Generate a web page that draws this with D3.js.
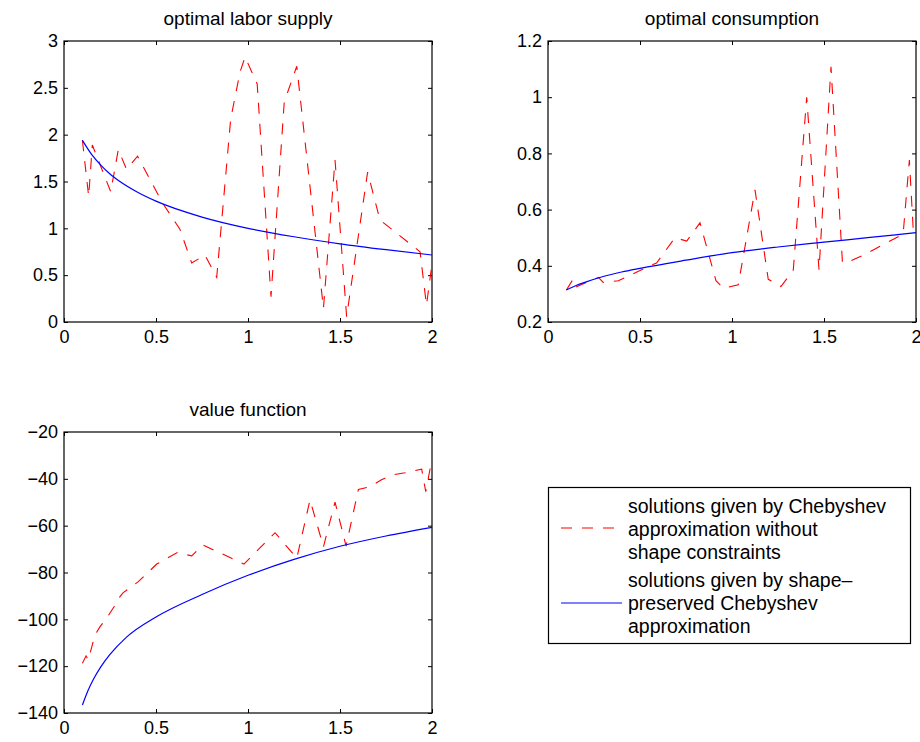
<!DOCTYPE html>
<html>
<head>
<meta charset="utf-8">
<script src="https://cdn.jsdelivr.net/npm/d3@7"></script>
<style>
  body { margin: 0; background: #fff; }
  svg { display: block; font-family: "Liberation Sans", Arial, sans-serif; }
</style>
</head>
<body>
<script>
// ---- data ----
// optimal labor supply
const laborChebX = [0.10, 0.134, 0.154, 0.254, 0.295, 0.34, 0.40, 0.536, 0.63, 0.694, 0.766, 0.83, 0.906, 0.957, 0.984, 1.05, 1.125, 1.197, 1.265, 1.41, 1.473, 1.536, 1.65, 1.717, 1.935, 1.97, 2.0];
const laborChebY = [1.94, 1.34, 1.89, 1.39, 1.84, 1.63, 1.77, 1.27, 0.99, 0.63, 0.715, 0.477, 2.17, 2.67, 2.83, 2.54, 0.27, 2.35, 2.73, 0.146, 1.73, 0.057, 1.60, 1.09, 0.75, 0.18, 0.62];
const laborShapeX = [0.1, 0.15, 0.2, 0.25, 0.3, 0.4, 0.5, 0.75, 1.0, 1.25, 1.5, 1.75, 2.0];
const laborShapeY = [1.94, 1.79, 1.675, 1.58, 1.505, 1.385, 1.29, 1.12, 1.0, 0.91, 0.835, 0.772, 0.715];

// optimal consumption
const consChebX = [0.10, 0.134, 0.147, 0.274, 0.30, 0.382, 0.554, 0.59, 0.69, 0.754, 0.826, 0.913, 0.953, 1.034, 1.125, 1.197, 1.266, 1.333, 1.406, 1.473, 1.538, 1.60, 1.614, 1.714, 1.93, 1.964, 1.985, 2.0];
const consChebY = [0.314, 0.35, 0.323, 0.359, 0.341, 0.347, 0.40, 0.41, 0.50, 0.488, 0.553, 0.347, 0.32, 0.332, 0.67, 0.352, 0.326, 0.385, 1.0, 0.385, 1.108, 0.415, 0.409, 0.438, 0.513, 0.776, 0.527, 0.52];
const consShapeX = [0.1, 0.15, 0.2, 0.3, 0.4, 0.5, 0.75, 1.0, 1.25, 1.5, 1.75, 2.0];
const consShapeY = [0.314, 0.329, 0.341, 0.362, 0.378, 0.391, 0.42, 0.447, 0.467, 0.484, 0.501, 0.518];

// value function
const valueChebX = [0.10, 0.12, 0.132, 0.168, 0.196, 0.232, 0.272, 0.304, 0.322, 0.404, 0.504, 0.616, 0.694, 0.754, 0.978, 1.147, 1.265, 1.337, 1.41, 1.473, 1.533, 1.60, 1.663, 1.723, 1.78, 1.853, 1.944, 1.966, 1.99, 2.0];
const valueChebY = [-118.8, -115.6, -117.4, -106.7, -103.1, -99.5, -94.6, -90.3, -88.6, -83.9, -76.4, -71.5, -72.9, -68.2, -76.4, -63.0, -73.9, -49.0, -69.0, -49.9, -68.7, -44.5, -43.4, -40.5, -38.4, -37.4, -35.9, -45.5, -35.5, -35.3];
const valueShapeX = [0.1, 0.13, 0.16, 0.2, 0.25, 0.34, 0.5, 0.75, 1.0, 1.25, 1.5, 1.75, 2.0];
const valueShapeY = [-136.6, -130.5, -125.6, -120.3, -115.0, -107.6, -99.0, -89.4, -81.2, -74.4, -68.8, -64.4, -60.7];

const xTicks = [0, 0.5, 1, 1.5, 2];
const laborTicks = [0, 0.5, 1, 1.5, 2, 2.5, 3];
const consTicks = [0.2, 0.4, 0.6, 0.8, 1, 1.2];
const valueTicks = [-20, -40, -60, -80, -100, -120, -140];

const legendLabels = [
  ["solutions given by Chebyshev", "approximation without", "shape constraints"],
  ["solutions given by shape\u2013", "preserved Chebyshev", "approximation"]
];

// ---- drawing ----
const svg = d3.select("body").append("svg")
    .attr("width", 920)
    .attr("height", 742);

const zip = (xs, ys) => xs.map((x, i) => [x, ys[i]]);

const panels = [
  { title: "optimal labor supply", left: 64, right: 432, top: 41, bottom: 322,
    yDomain: [0, 3], yTicks: laborTicks,
    cheb: zip(laborChebX, laborChebY), shape: zip(laborShapeX, laborShapeY) },
  { title: "optimal consumption", left: 548, right: 916, top: 41, bottom: 322,
    yDomain: [0.2, 1.2], yTicks: consTicks,
    cheb: zip(consChebX, consChebY), shape: zip(consShapeX, consShapeY) },
  { title: "value function", left: 64, right: 432, top: 432, bottom: 713,
    yDomain: [-140, -20], yTicks: valueTicks,
    cheb: zip(valueChebX, valueChebY), shape: zip(valueShapeX, valueShapeY) }
];

const fmt = d => String(+d.toFixed(2)).replace("-", "\u2212");

panels.forEach(function(p) {
  const x = d3.scaleLinear().domain([0, 2]).range([p.left, p.right]);
  const y = d3.scaleLinear().domain(p.yDomain).range([p.bottom, p.top]);
  const g = svg.append("g");

  // ticks on all four sides, pointing inward
  const axes = [
    [d3.axisBottom(x).tickValues(xTicks).tickFormat(fmt).tickPadding(8), "translate(0," + p.bottom + ")"],
    [d3.axisTop(x).tickValues(xTicks).tickFormat(""), "translate(0," + p.top + ")"],
    [d3.axisLeft(y).tickValues(p.yTicks).tickFormat(fmt).tickPadding(6), "translate(" + p.left + ",0)"],
    [d3.axisRight(y).tickValues(p.yTicks).tickFormat(""), "translate(" + p.right + ",0)"]
  ];
  axes.forEach(function(a) {
    const ax = g.append("g")
        .attr("transform", a[1])
        .call(a[0].tickSizeInner(-4).tickSizeOuter(0));
    ax.select(".domain").remove();
    ax.selectAll("line").attr("stroke", "#000");
    ax.selectAll("text")
        .attr("fill", "#000")
        .style("font-size", "18px")
        .style("font-family", "'Liberation Sans', Arial, sans-serif");
  });

  // box
  g.append("rect")
      .attr("x", p.left)
      .attr("y", p.top)
      .attr("width", p.right - p.left)
      .attr("height", p.bottom - p.top)
      .attr("fill", "none")
      .attr("stroke", "#000")
      .attr("stroke-width", 1.2);

  // title
  g.append("text")
      .attr("x", (p.left + p.right) / 2)
      .attr("y", p.top - 16)
      .attr("text-anchor", "middle")
      .style("font-size", "19px")
      .text(p.title);

  // unconstrained Chebyshev (dashed red)
  g.append("path")
      .datum(p.cheb)
      .attr("fill", "none")
      .attr("stroke", "#ff0000")
      .attr("stroke-width", 1.1)
      .attr("stroke-dasharray", "11,10")
      .attr("d", d3.line().x(d => x(d[0])).y(d => y(d[1])));

  // shape-preserving (solid blue)
  g.append("path")
      .datum(p.shape)
      .attr("fill", "none")
      .attr("stroke", "#0000ff")
      .attr("stroke-width", 1.2)
      .attr("d", d3.line().curve(d3.curveMonotoneX).x(d => x(d[0])).y(d => y(d[1])));
});

// legend
const lg = svg.append("g");
lg.append("rect")
    .attr("x", 548.5).attr("y", 487.5)
    .attr("width", 362).attr("height", 156)
    .attr("fill", "#fff")
    .attr("stroke", "#000")
    .attr("stroke-width", 1.2);

const legendStyles = [
  { color: "#ff0000", dash: "11,10", lineY: 528, firstBaseline: 513 },
  { color: "#0000ff", dash: null, lineY: 603, firstBaseline: 587 }
];
legendStyles.forEach(function(s, i) {
  lg.append("line")
      .attr("x1", 561).attr("x2", 622)
      .attr("y1", s.lineY).attr("y2", s.lineY)
      .attr("stroke", s.color)
      .attr("stroke-width", 1.1)
      .attr("stroke-dasharray", s.dash);
  legendLabels[i].forEach(function(t, j) {
    lg.append("text")
        .attr("x", 628)
        .attr("y", s.firstBaseline + j * 23)
        .style("font-size", "19.5px")
        .text(t);
  });
});
</script>
</body>
</html>
